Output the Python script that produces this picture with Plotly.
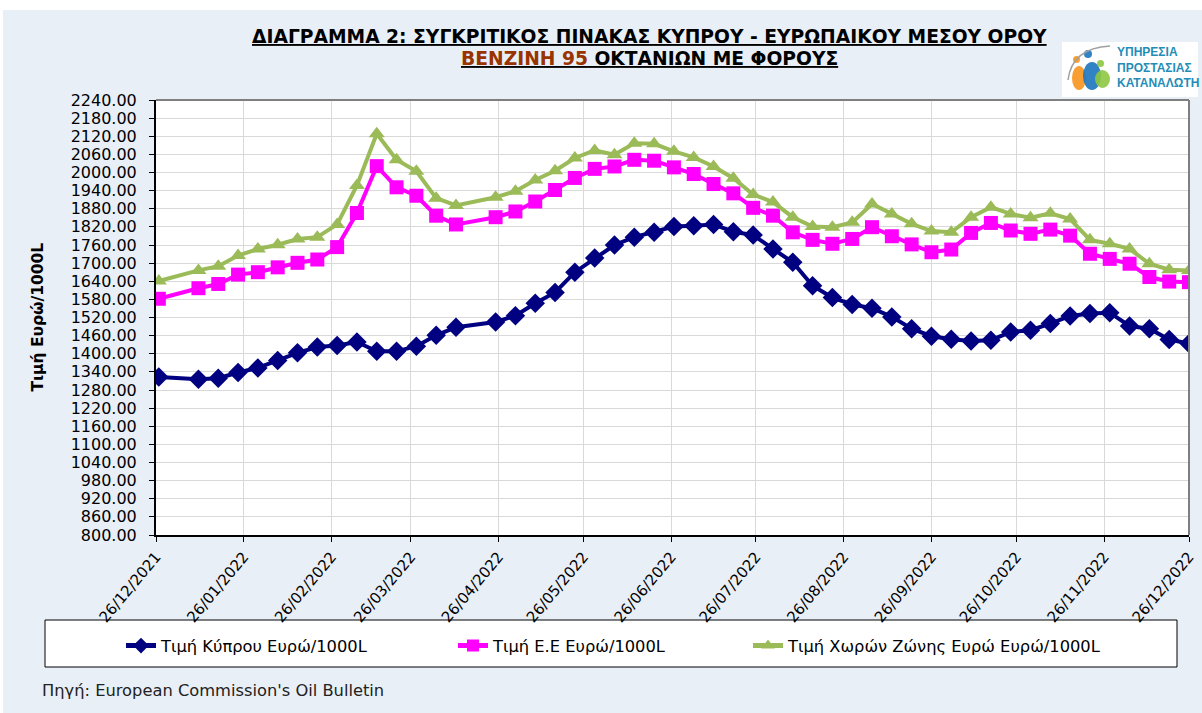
import plotly.graph_objects as go

# weekly oil bulletin dates
dates = ["2021-12-27",
         "2022-01-10", "2022-01-17", "2022-01-24", "2022-01-31", "2022-02-07", "2022-02-14",
         "2022-02-21", "2022-02-28", "2022-03-07", "2022-03-14", "2022-03-21", "2022-03-28",
         "2022-04-04", "2022-04-11",
         "2022-04-25", "2022-05-02", "2022-05-09", "2022-05-16", "2022-05-23", "2022-05-30",
         "2022-06-06", "2022-06-13", "2022-06-20", "2022-06-27", "2022-07-04", "2022-07-11",
         "2022-07-18", "2022-07-25", "2022-08-01", "2022-08-08", "2022-08-15", "2022-08-22",
         "2022-08-29", "2022-09-05", "2022-09-12", "2022-09-19", "2022-09-26", "2022-10-03",
         "2022-10-10", "2022-10-17", "2022-10-24", "2022-10-31", "2022-11-07", "2022-11-14",
         "2022-11-21", "2022-11-28", "2022-12-05", "2022-12-12", "2022-12-19", "2022-12-26"]

cyprus = [1323, 1316, 1319, 1338, 1353, 1378, 1403, 1422, 1427, 1439, 1408, 1408, 1425, 1461, 1488,
          1505, 1526, 1567, 1603, 1670, 1717, 1760, 1786, 1802, 1821, 1824, 1828, 1804, 1793, 1747,
          1703, 1625, 1586, 1563, 1551, 1522, 1483, 1458, 1448, 1442, 1445, 1472, 1478, 1500, 1525,
          1533, 1536, 1492, 1483, 1447, 1434]

eu = [1582, 1617, 1631, 1662, 1670, 1686, 1701, 1712, 1753, 1866, 2021, 1951, 1923, 1857, 1828,
      1852, 1871, 1904, 1942, 1982, 2012, 2020, 2042, 2039, 2017, 1995, 1962, 1931, 1883, 1857,
      1802, 1777, 1764, 1780, 1819, 1789, 1762, 1736, 1745, 1800, 1833, 1808, 1797, 1811, 1791,
      1731, 1714, 1698, 1654, 1639, 1637]

eurozone = [1641, 1676, 1690, 1725, 1747, 1761, 1780, 1786, 1828, 1957, 2128, 2042, 2004, 1915, 1891,
            1918, 1938, 1975, 2006, 2048, 2073, 2059, 2097, 2095, 2070, 2050, 2020, 1981, 1927, 1902,
            1852, 1821, 1819, 1835, 1896, 1863, 1830, 1806, 1802, 1852, 1885, 1863, 1850, 1865, 1846,
            1777, 1764, 1747, 1698, 1678, 1676]

tick_dates = ["2021-12-26", "2022-01-26", "2022-02-26", "2022-03-26", "2022-04-26", "2022-05-26",
              "2022-06-26", "2022-07-26", "2022-08-26", "2022-09-26", "2022-10-26", "2022-11-26",
              "2022-12-26"]
tick_labels = [d[8:10] + "/" + d[5:7] + "/" + d[0:4] for d in tick_dates]

names = ["Τιμή Κύπρου Ευρώ/1000L", "Τιμή Ε.Ε Ευρώ/1000L", "Τιμή Χωρών Ζώνης Ευρώ Ευρώ/1000L"]

# plot area in pixels
L, T, R, B = 156, 100, 1189, 535
W, H = 1202, 713


def px(X):
    return (X - L) / (R - L)


def py(Y):
    return (B - Y) / (B - T)


FONT = "DejaVu Sans, Verdana, sans-serif"
LOGO_FONT = "Liberation Sans, Arial, sans-serif"

fig = go.Figure()
fig.add_trace(go.Scatter(x=dates, y=cyprus, name=names[0], mode="lines+markers",
                         line=dict(color="#000080", width=4),
                         marker=dict(symbol="diamond", size=15, color="#000080"),
                         legend="legend"))
fig.add_trace(go.Scatter(x=dates, y=eu, name=names[1], mode="lines+markers",
                         line=dict(color="#FF00FF", width=4),
                         marker=dict(symbol="square", size=14, color="#FF00FF"),
                         legend="legend2"))
fig.add_trace(go.Scatter(x=dates, y=eurozone, name=names[2], mode="lines+markers",
                         line=dict(color="#9BBB59", width=4),
                         marker=dict(symbol="triangle-up", size=14, color="#9BBB59"),
                         legend="legend3"))

shapes = [
    # light blue panel
    dict(type="rect", xref="paper", yref="paper", x0=px(3), x1=px(1210), y0=py(720), y1=py(10),
         fillcolor="#E9EFF7", line=dict(width=0), layer="below"),
    # white plot area
    dict(type="rect", xref="paper", yref="paper", x0=0, x1=1, y0=0, y1=1,
         fillcolor="white", line=dict(width=0), layer="below"),
    # top and right border of plot area
    dict(type="line", xref="paper", yref="paper", x0=0, x1=1, y0=1, y1=1,
         line=dict(color="#7F7F7F", width=2)),
    dict(type="line", xref="paper", yref="paper", x0=1, x1=1, y0=0, y1=1,
         line=dict(color="#7F7F7F", width=2)),
    # legend box
    dict(type="rect", xref="paper", yref="paper", x0=px(45), x1=px(1177), y0=py(667), y1=py(620),
         fillcolor="white", line=dict(color="black", width=1), layer="below"),
    # logo box
    dict(type="rect", xref="paper", yref="paper", x0=px(1062), x1=px(1198), y0=py(97), y1=py(42),
         fillcolor="white", line=dict(width=0)),
]

# logo figures (decoration)
logo_circles = [(1072, 66, 1086, 90, "#F7941D"), (1083, 62, 1101, 90, "#1B75BC"),
                (1095, 70, 1110, 88, "#8DC63F"), (1073, 56, 1080, 63, "#F7941D"),
                (1084, 50, 1092, 58, "#1B75BC"), (1097, 60, 1104, 67, "#8DC63F")]
for x0, y0, x1, y1, c in logo_circles:
    shapes.append(dict(type="circle", xref="paper", yref="paper", x0=px(x0), x1=px(x1),
                       y0=py(y1), y1=py(y0), fillcolor=c, line=dict(width=0), opacity=0.9))
shapes.append(dict(type="path", xref="paper", yref="paper",
                   path="M %f,%f Q %f,%f %f,%f" % (px(1068), py(80), px(1072), py(48), px(1110), py(46)),
                   line=dict(color="#A0A0A0", width=1.5)))

annotations = [
    dict(text="<u>ΔΙΑΓΡΑΜΜΑ 2: ΣΥΓΚΡΙΤΙΚΟΣ ΠΙΝΑΚΑΣ ΚΥΠΡΟΥ - ΕΥΡΩΠΑΙΚΟΥ ΜΕΣΟΥ ΟΡΟΥ</u>",
         xref="paper", yref="paper", x=px(649), y=py(36), xanchor="center", yanchor="middle",
         showarrow=False, font=dict(family=FONT, size=18.7, color="black", weight="bold")),
    dict(text="<u><span style='color:#993300'>ΒΕΝΖΙΝΗ 95</span> ΟΚΤΑΝΙΩΝ ΜΕ ΦΟΡΟΥΣ</u>",
         xref="paper", yref="paper", x=px(649), y=py(59), xanchor="center", yanchor="middle",
         showarrow=False, font=dict(family=FONT, size=18.7, color="black", weight="bold")),
    dict(text="ΥΠΗΡΕΣΙΑ<br>ΠΡΟΣΤΑΣΙΑΣ<br>ΚΑΤΑΝΑΛΩΤΗ",
         xref="paper", yref="paper", x=px(1115), y=py(67), xanchor="left", yanchor="middle",
         align="left", showarrow=False,
         font=dict(family=LOGO_FONT, size=12, color="#1F8DB8", weight="bold")),
    dict(text="Τιμή Ευρώ/1000L", textangle=-90,
         xref="paper", yref="paper", x=px(37), y=0.5, xanchor="center", yanchor="middle",
         showarrow=False, font=dict(family=FONT, size=15.5, color="black", weight="bold")),
    dict(text="Πηγή: European Commission's Oil Bulletin",
         xref="paper", yref="paper", x=px(40), y=py(690), xanchor="left", yanchor="middle",
         showarrow=False, font=dict(family=FONT, size=16.3, color="#222222")),
]

legend_style = dict(orientation="h", bgcolor="rgba(0,0,0,0)", borderwidth=0, itemsizing="constant",
                    yref="paper", y=py(646), yanchor="middle", xanchor="left",
                    font=dict(family=FONT, size=16.3, color="black"))

fig.update_layout(
    width=W, height=H,
    margin=dict(l=L, r=W - R, t=T, b=H - B),
    paper_bgcolor="white",
    plot_bgcolor="white",
    showlegend=True,
    legend=dict(legend_style, x=px(121)),
    legend2=dict(legend_style, x=px(453)),
    legend3=dict(legend_style, x=px(748)),
    shapes=shapes,
    annotations=annotations,
    xaxis=dict(type="date", range=["2021-12-26", "2022-12-26"], automargin=False,
               tickvals=tick_dates, ticktext=tick_labels, tickangle=-50,
               showgrid=True, gridcolor="#D9D9D9", gridwidth=1,
               showline=True, linecolor="black", linewidth=2,
               ticks="outside", ticklen=5, tickcolor="black",
               tickfont=dict(family=FONT, size=15, color="black"), zeroline=False),
    yaxis=dict(range=[800, 2240], dtick=60, tick0=800, tickformat=".2f", automargin=False,
               showgrid=True, gridcolor="#D9D9D9", gridwidth=1,
               showline=True, linecolor="black", linewidth=2,
               ticks="outside", ticklen=5, tickcolor="black", ticklabelstandoff=9,
               tickfont=dict(family=FONT, size=16, color="black"), zeroline=False),
)

# the page body has a default margin; remove it so the figure sits at the window corner
fig.write_html("out.html", config={"displayModeBar": False},
               post_script="document.body.style.margin='0';")
